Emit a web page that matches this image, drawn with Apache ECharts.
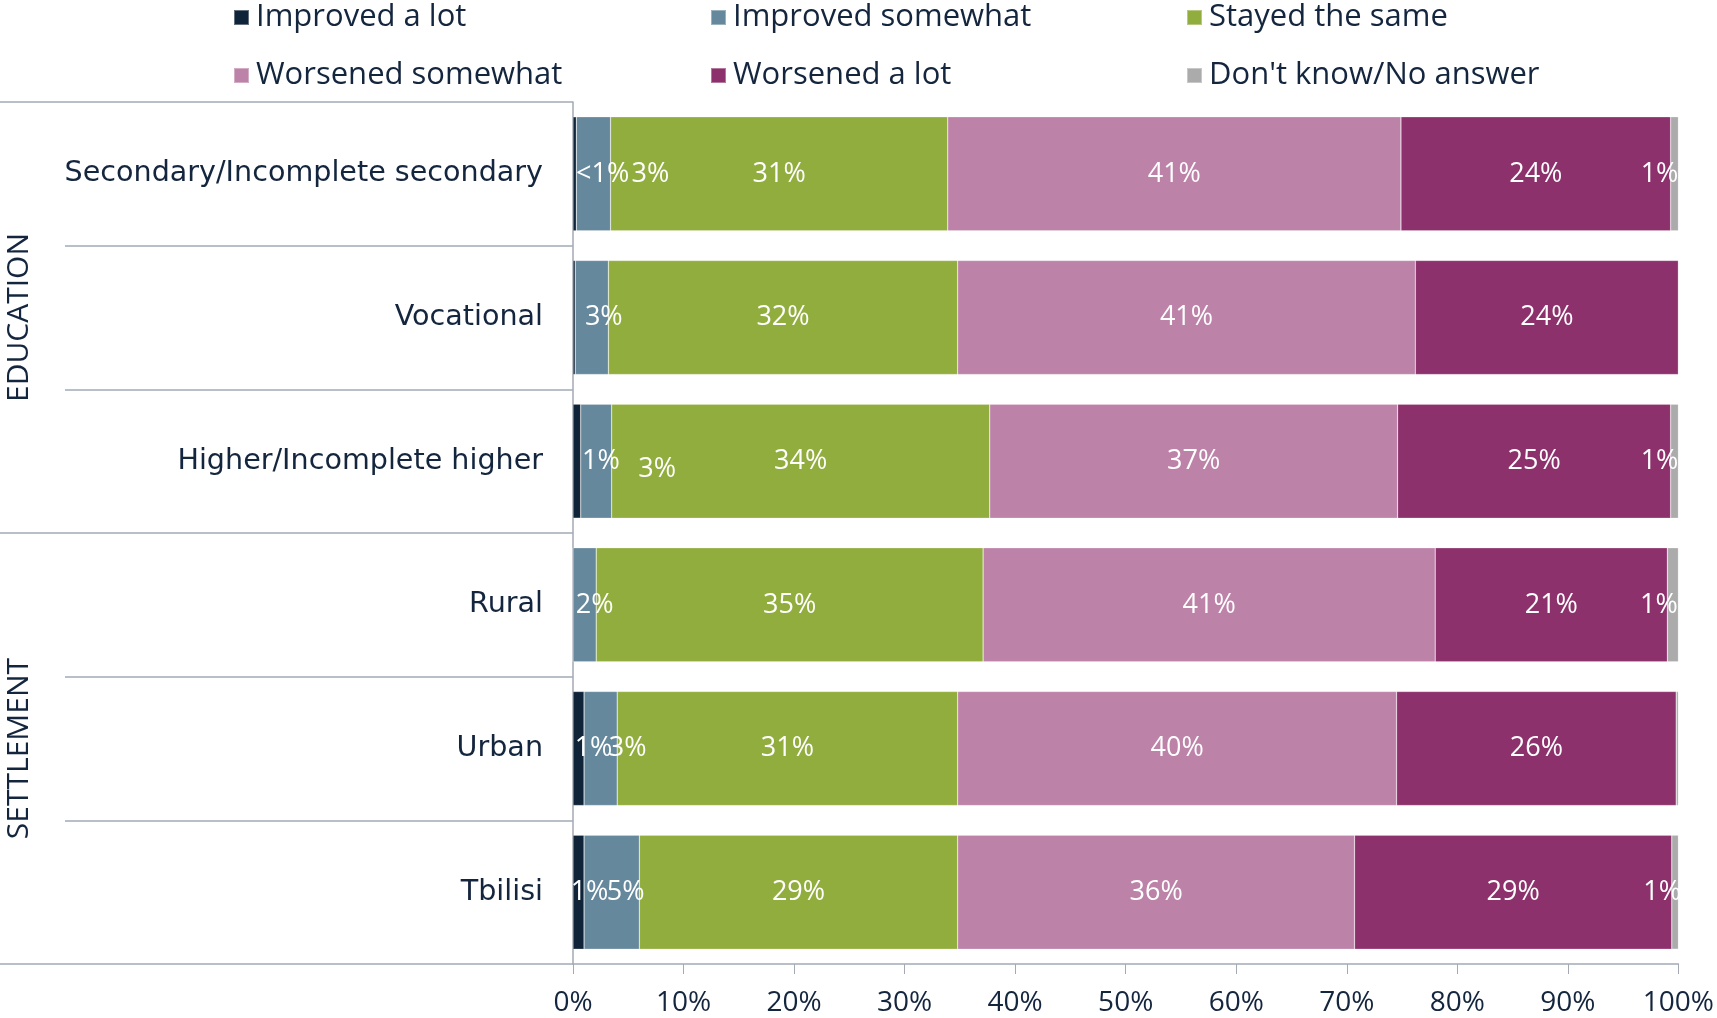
<!DOCTYPE html>
<html>
<head>
<meta charset="utf-8">
<title>Change by education and settlement</title>
<script src="https://cdn.jsdelivr.net/npm/echarts@6/dist/echarts.min.js"></script>
<style>
  html, body { margin: 0; padding: 0; background: #fff; }
  #chart { width: 1717px; height: 1018px; }
</style>
</head>
<body>
<div id="chart"></div>
<script>
// rows, top to bottom
const categories = ['Secondary/Incomplete secondary', 'Vocational', 'Higher/Incomplete higher', 'Rural', 'Urban', 'Tbilisi'];
const groups = ['EDUCATION', 'SETTLEMENT'];
const seriesNames = ['Improved a lot', 'Improved somewhat', 'Stayed the same', 'Worsened somewhat', 'Worsened a lot', "Don't know/No answer"];

// shares in %
const improvedLot      = [0.3, 0.2, 0.7, 0,    1.0,  1.0];
const improvedSomewhat = [3.1, 3.0, 2.8, 2.1,  3.0,  5.0];
const stayedSame       = [30.5, 31.6, 34.2, 35.0, 30.8, 28.8];
const worsenedSomewhat = [41.0, 41.4, 36.9, 40.9, 39.7, 35.9];
const worsenedLot      = [24.4, 23.8, 24.7, 21.0, 25.3, 28.7];
const dontKnow         = [0.7, 0,   0.7, 1.0,  0.2,  0.6];

// printed labels ('' = no label)
const lblImprovedLot      = ['<1%', '', '1%', '', '1%', '1%'];
const lblImprovedSomewhat = ['3%', '3%', '3%', '2%', '3%', '5%'];
const lblStayedSame       = ['31%', '32%', '34%', '35%', '31%', '29%'];
const lblWorsenedSomewhat = ['41%', '41%', '37%', '41%', '40%', '36%'];
const lblWorsenedLot      = ['24%', '24%', '25%', '21%', '26%', '29%'];
const lblDontKnow         = ['1%', '', '1%', '1%', '', '1%'];

const tickLabels = ['0%', '10%', '20%', '30%', '40%', '50%', '60%', '70%', '80%', '90%', '100%'];

const colors = ['#0f2339', '#66889c', '#91ad3d', '#bc82a8', '#8c316c', '#ababab'];
const values = [improvedLot, improvedSomewhat, stayedSame, worsenedSomewhat, worsenedLot, dontKnow];
const labels = [lblImprovedLot, lblImprovedSomewhat, lblStayedSame, lblWorsenedSomewhat, lblWorsenedLot, lblDontKnow];

// small segments carry their label off-centre, like the original
const nudge = {
  '0-0': [28, 0], '1-0': [57, 0], '5-0': [-15, 0],
  '1-1': [12, 0],
  '0-2': [24, 0], '1-2': [61, 8], '5-2': [-15, 0],
  '1-3': [10, 0], '5-3': [-14, 0],
  '0-4': [15, 0], '1-4': [27, 0],
  '0-5': [11, 0], '1-5': [14, 0], '5-5': [-13, 0]
};

const textColor = '#14253e';
const lineColor = '#a3aab4';

const chart = echarts.init(document.getElementById('chart'));

const legendPos = [[228, -3], [705, -3], [1181, -3], [228, 55], [705, 55], [1181, 55]];

chart.setOption({
  animation: false,
  legend: seriesNames.map(function (name, i) {
    return {
      data: [name],
      left: legendPos[i][0],
      top: legendPos[i][1],
      icon: 'rect',
      itemWidth: 15,
      itemHeight: 15,
      itemGap: 0,
      textStyle: { fontFamily: 'Open Sans', fontSize: 31, color: textColor, padding: [0, 0, 0, 2] }
    };
  }),
  grid: { left: 573, right: 37, top: 102, bottom: 54 },
  xAxis: {
    type: 'value',
    min: 0,
    max: 100,
    interval: 10,
    axisLine: { show: true, lineStyle: { color: lineColor, width: 1.5 } },
    axisTick: { show: true, length: 10, lineStyle: { color: lineColor } },
    splitLine: { show: false },
    axisLabel: {
      margin: 25,
      fontFamily: 'Open Sans',
      fontSize: 28,
      color: textColor,
      formatter: function (v) { return tickLabels[Math.round(v / 10)]; }
    }
  },
  yAxis: [
    {
      type: 'category',
      data: categories,
      inverse: true,
      axisLine: { show: true, lineStyle: { color: lineColor, width: 1.5 } },
      axisTick: { show: true, length: 508, lineStyle: { color: lineColor, width: 1.5 } },
      axisLabel: { margin: 30, fontFamily: 'DejaVu Sans', fontSize: 28.6, color: textColor }
    },
    {
      type: 'category',
      data: groups,
      inverse: true,
      position: 'left',
      axisLine: { show: false },
      axisTick: { show: true, length: 573, lineStyle: { color: lineColor, width: 1.5 } },
      axisLabel: { rotate: 90, margin: 539, fontFamily: 'Open Sans', fontSize: 30, color: textColor }
    }
  ],
  series: seriesNames.map(function (name, s) {
    return {
      name: name,
      type: 'bar',
      stack: 'total',
      yAxisIndex: 0,
      barCategoryGap: '20.6%',
      itemStyle: { color: colors[s], borderColor: 'rgba(255,255,255,0.35)', borderWidth: 0.6 },
      label: {
        show: true,
        position: 'inside',
        color: '#fff',
        fontFamily: 'Open Sans',
        fontSize: 27
      },
      data: values[s].map(function (v, r) {
        const item = { value: v, label: { formatter: labels[s][r] } };
        const n = nudge[s + '-' + r];
        if (n) item.label.offset = n;
        if (!labels[s][r]) item.label.show = false;
        return item;
      })
    };
  })
});
</script>
</body>
</html>
